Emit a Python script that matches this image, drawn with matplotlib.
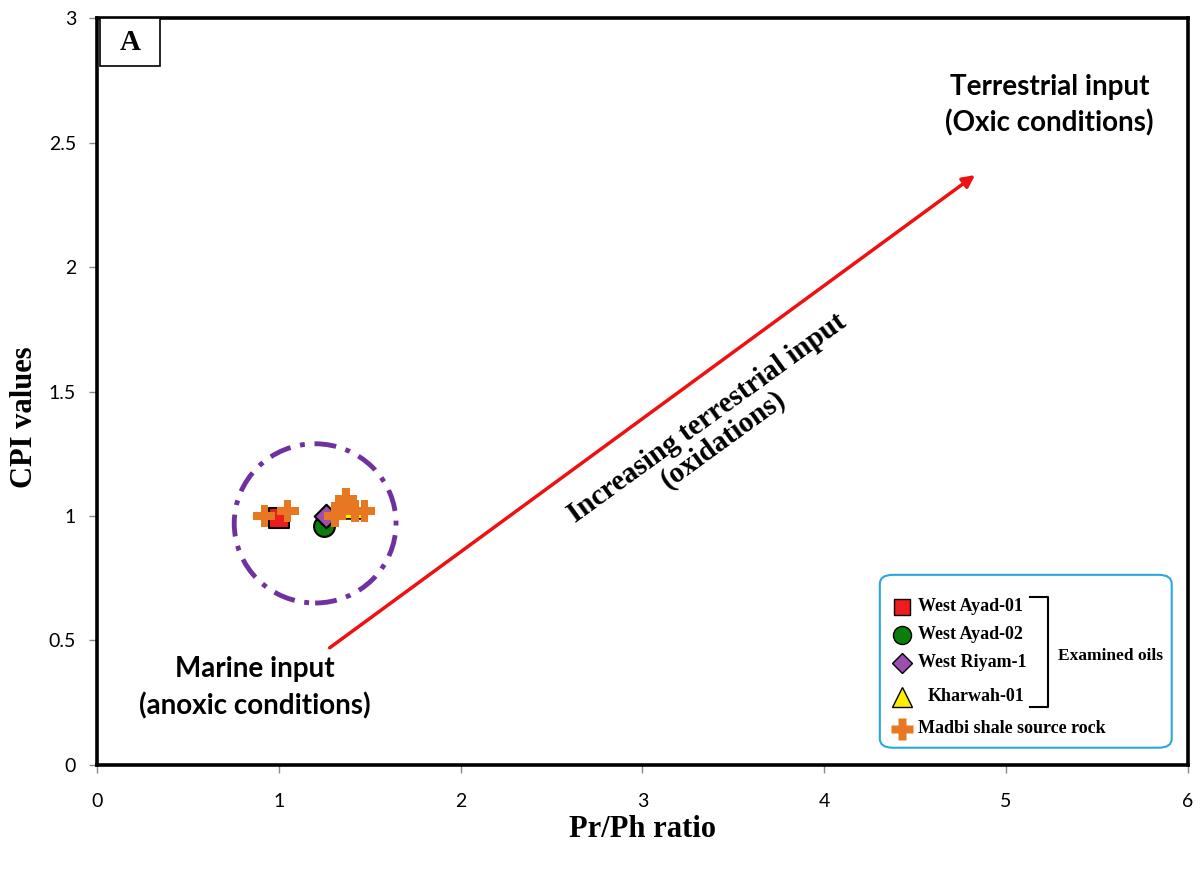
import numpy as np
import matplotlib.pyplot as plt
from matplotlib.patches import Ellipse, FancyBboxPatch, Rectangle

# Pr/Ph ratio vs CPI values
ayad01_x, ayad01_y = [1.0], [0.99]
ayad02_x, ayad02_y = [1.25], [0.96]
riyam_x, riyam_y = [1.26], [1.0]
kharwah_x, kharwah_y = [1.41], [1.03]
madbi_x = [0.92, 1.05, 1.31, 1.35, 1.37, 1.42, 1.47]
madbi_y = [1.0, 1.02, 1.0, 1.04, 1.07, 1.02, 1.02]

serif = 'Liberation Serif'
sans = 'Lato'

fig = plt.figure(figsize=(12, 8.71), dpi=100)
ax = fig.add_axes([0.0808, 0.122, 0.909, 0.857])
ax.set_xlim(0, 6)
ax.set_ylim(0, 3)
ax.set_xticks(range(7))
ax.set_yticks([0, 0.5, 1, 1.5, 2, 2.5, 3])
ax.set_yticklabels(['0', '0.5', '1', '1.5', '2', '2.5', '3'])
ax.tick_params(labelsize=14, length=6, width=1, color='#888888')
ax.tick_params(axis='x', pad=14)
ax.tick_params(axis='y', pad=9)
for lab in ax.get_xticklabels() + ax.get_yticklabels():
    lab.set_family(sans)
for s in ax.spines.values():
    s.set_linewidth(2.6)

ax.set_xlabel('Pr/Ph ratio', fontsize=22, fontweight='bold', family=serif, va='center')
ax.set_ylabel('CPI values', fontsize=22, fontweight='bold', family=serif, va='center')
ax.xaxis.set_label_coords(0.5, -0.087)
ax.yaxis.set_label_coords(-0.066, 0.466)

# grouping ellipse
ax.add_patch(Ellipse((1.2, 0.97), 0.89, 0.64, fill=False, edgecolor='#7030a0',
                     lw=3.5, linestyle=(0, (4.5, 2, 1, 2)), zorder=2))

# trend arrow
ax.annotate('', xy=(4.83, 2.37), xytext=(1.28, 0.47),
            arrowprops=dict(arrowstyle='-|>', color='#ee1111', lw=2.5,
                            mutation_scale=18, shrinkA=0, shrinkB=0))

ms = 15
ax.scatter(ayad01_x, ayad01_y, marker='s', s=ms**2, c='#ee1c1c', edgecolors='black', lw=1.5, zorder=3)
ax.scatter(ayad02_x, ayad02_y, marker='o', s=ms**2, c='#0a7d0a', edgecolors='black', lw=1.5, zorder=3)
ax.scatter(riyam_x, riyam_y, marker='D', s=(ms*0.8)**2, c='#9b4fb0', edgecolors='black', lw=1.5, zorder=4)
ax.scatter(kharwah_x, kharwah_y, marker='^', s=ms**2, c='#ffee00', edgecolors='black', lw=1.2, zorder=3)
ax.scatter(madbi_x, madbi_y, marker='P', s=(ms*1.05)**2, c='#e87722', edgecolors='none', zorder=5)

# annotations
ax.text(5.24, 2.65, 'Terrestrial input\n(Oxic conditions)', ha='center', va='center',
        fontsize=20, fontweight='bold', family=sans, linespacing=1.45)
ax.text(0.87, 0.31, 'Marine input\n(anoxic conditions)', ha='center', va='center',
        fontsize=20, fontweight='bold', family=sans, linespacing=1.45)
ax.text(3.40, 1.35, 'Increasing terrestrial input\n(oxidations)', ha='center', va='center',
        rotation=36, rotation_mode='anchor', fontsize=21, fontweight='bold', family=serif,
        linespacing=1.0)

# panel label
tr = ax.transAxes
ax.add_patch(Rectangle((0.0027, 0.9357), 0.055, 0.0643, transform=tr,
                       fc='white', ec='black', lw=1.2, zorder=6))
ax.text(0.0302, 0.968, 'A', transform=tr, ha='center', va='center',
        fontsize=21, fontweight='bold', family=serif, zorder=7)

# legend box
ax.add_patch(FancyBboxPatch((0.7177, 0.0228), 0.2676, 0.2316, transform=tr,
                            boxstyle='round,pad=0,rounding_size=0.012',
                            fc='white', ec='#29a8e0', lw=1.5, zorder=6))
rows = [(765 - y) / 747 for y in [607, 635, 663, 697, 729]]
names = ['West Ayad-01', 'West Ayad-02', 'West Riyam-1', 'Kharwah-01', 'Madbi shale source rock']
marks = [('s', '#ee1c1c', 'black', 12), ('o', '#0a7d0a', 'black', 13),
         ('D', '#9b4fb0', 'black', 10), ('^', '#ffee00', 'black', 14),
         ('P', '#e87722', 'none', 16)]
mx = (902 - 97) / 1091
for i, (y, nm, (m, fc, ec, sz)) in enumerate(zip(rows, names, marks)):
    ax.plot([mx], [y], marker=m, ms=sz, mfc=fc, mec=ec, mew=1, ls='none',
            transform=tr, zorder=7, clip_on=False)
    tx = (928 - 97) / 1091 if i == 3 else (918 - 97) / 1091
    ax.text(tx, y, nm, transform=tr, ha='left', va='center', fontsize=13,
            fontweight='bold', family=serif, zorder=7)

# bracket for examined oils
bx = (1048 - 97) / 1091
bl = (1030 - 97) / 1091
yt, yb = (765 - 597) / 747, (765 - 707) / 747
ax.plot([bl, bx, bx, bl], [yt, yt, yb, yb], color='black', lw=1.5,
        transform=tr, zorder=7, clip_on=False)
ax.text((1058 - 97) / 1091, (765 - 656) / 747, 'Examined oils', transform=tr,
        ha='left', va='center', fontsize=12.5, fontweight='bold', family=serif, zorder=7)

fig.savefig('out.png', dpi=100)
